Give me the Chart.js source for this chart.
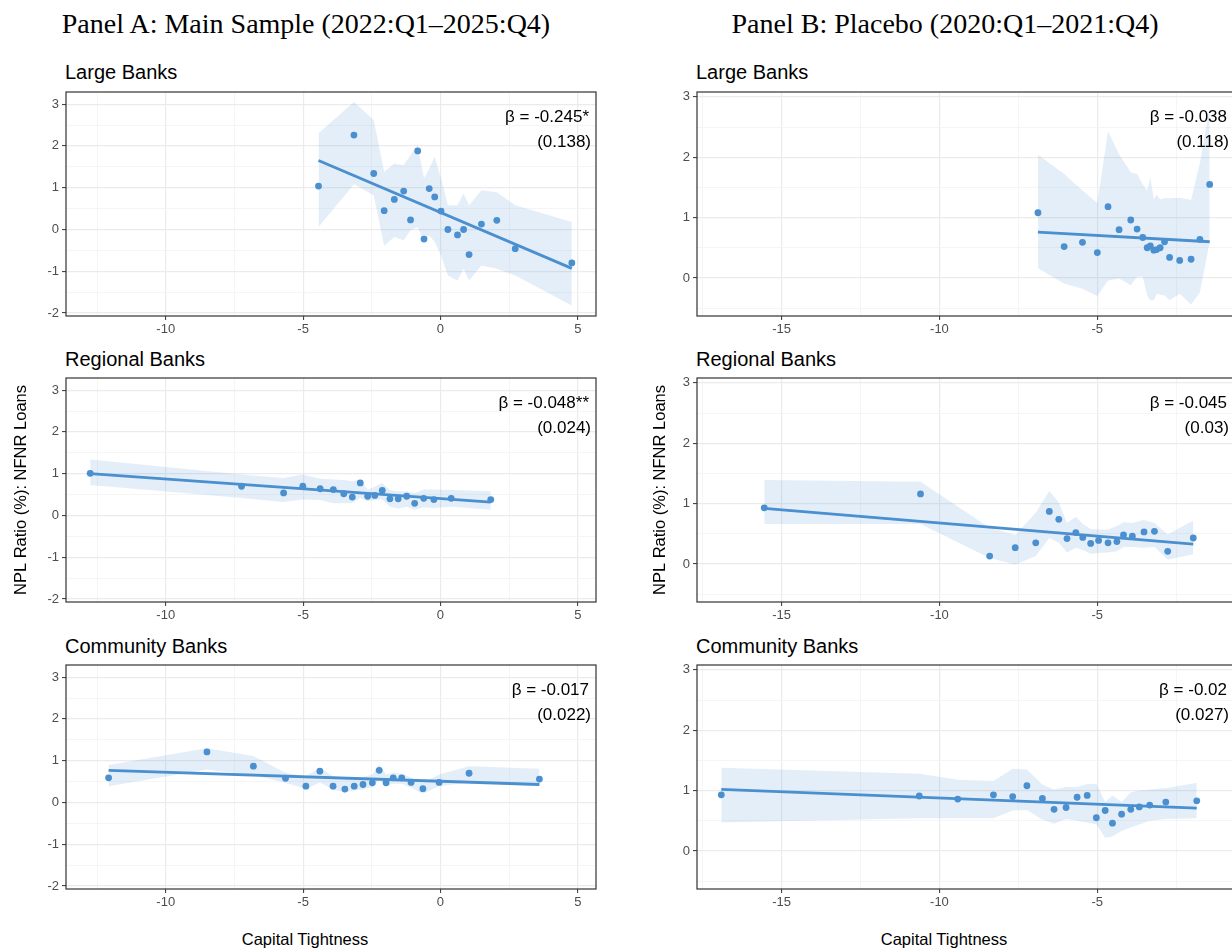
<!DOCTYPE html>
<html>
<head>
<meta charset="utf-8">
<script src="https://cdn.jsdelivr.net/npm/chart.js@4.4.1/dist/chart.umd.min.js"></script>
<style>
  html, body { margin: 0; padding: 0; background: #fff; overflow: hidden; }
  body { width: 1232px; height: 949px; position: relative; }
  canvas { position: absolute; }
  .head { position: absolute; top: 10px; font-family: "Liberation Serif", serif; font-size: 28px; line-height: 28px; white-space: nowrap; transform: translateX(-50%); color: #000; }
  .sub { position: absolute; font-family: "Liberation Sans", Arial, sans-serif; font-size: 20px; line-height: 20px; white-space: nowrap; color: #000; }
  .xt { position: absolute; top: 931px; font-family: "Liberation Sans", Arial, sans-serif; font-size: 16.5px; line-height: 16.5px; white-space: nowrap; transform: translateX(-50%); color: #000; }
</style>
</head>
<body>
<div class="head" style="left:306px">Panel A: Main Sample (2022:Q1–2025:Q4)</div>
<div class="head" style="left:945px">Panel B: Placebo (2020:Q1–2021:Q4)</div>

<div class="sub" style="left:65px;top:62px">Large Banks</div>
<div class="sub" style="left:65px;top:349px">Regional Banks</div>
<div class="sub" style="left:65px;top:636px">Community Banks</div>
<div class="sub" style="left:696px;top:62px">Large Banks</div>
<div class="sub" style="left:696px;top:349px">Regional Banks</div>
<div class="sub" style="left:696px;top:636px">Community Banks</div>

<canvas id="aLarge" width="590" height="252" style="left:10px;top:88px"></canvas>
<canvas id="aRegional" width="590" height="252" style="left:10px;top:374px"></canvas>
<canvas id="aCommunity" width="590" height="252" style="left:10px;top:661px"></canvas>
<canvas id="bLarge" width="589" height="252" style="left:649px;top:88px"></canvas>
<canvas id="bRegional" width="589" height="252" style="left:649px;top:374px"></canvas>
<canvas id="bCommunity" width="589" height="252" style="left:649px;top:661px"></canvas>

<div class="xt" style="left:305px">Capital Tightness</div>
<div class="xt" style="left:944px">Capital Tightness</div>

<script>
// axis ticks (minor ones carry no label)
var xTicksA = [-12.5, -10, -7.5, -5, -2.5, 0, 2.5, 5];
var yTicksA = [-2, -1.5, -1, -0.5, 0, 0.5, 1, 1.5, 2, 2.5, 3];
var xTicksB = [-17.5, -15, -12.5, -10, -7.5, -5, -2.5];
var yTicksB = [-0.5, 0, 0.5, 1, 1.5, 2, 2.5, 3];
var xRangeA = [-13.63, 5.66], yRangeA = [-2.07, 3.29];
var xRangeB = [-17.68, -0.67], yRangeB = [-0.63, 3.08];

// Panel A: Large
var largeA_x = [-4.44, -3.15, -2.43, -2.05, -1.68, -1.34, -1.09, -0.83, -0.60, -0.41, -0.21, 0.02, 0.27, 0.62, 0.84, 1.04, 1.49, 2.05, 2.72, 4.78];
var largeA_y = [1.04, 2.26, 1.34, 0.45, 0.72, 0.92, 0.23, 1.88, -0.23, 0.98, 0.78, 0.44, 0.00, -0.13, 0.00, -0.60, 0.13, 0.22, -0.46, -0.80];
var largeA_hi = [2.30, 3.05, 2.62, 1.38, 1.58, 1.54, 1.78, 2.02, 1.22, 1.46, 1.74, 1.22, 0.58, 0.58, 0.86, 0.58, 0.94, 0.89, 0.58, 0.18];
var largeA_lo = [0.06, 1.08, 0.82, -0.39, -0.18, -0.26, -0.02, 0.06, -0.30, -0.14, -0.30, -0.62, -1.10, -1.22, -0.94, -1.22, -0.86, -0.94, -1.10, -1.82];
var largeA_fitX = [-4.44, 4.78], largeA_fitY = [1.65, -0.93];

// Panel A: Regional
var regA_x = [-12.75, -7.24, -5.71, -5.01, -4.38, -3.90, -3.52, -3.21, -2.92, -2.65, -2.39, -2.12, -1.84, -1.54, -1.23, -0.94, -0.61, -0.24, 0.39, 1.83];
var regA_y = [1.01, 0.70, 0.54, 0.70, 0.64, 0.62, 0.52, 0.44, 0.78, 0.46, 0.48, 0.60, 0.40, 0.40, 0.46, 0.29, 0.41, 0.38, 0.41, 0.38];
var regA_hi = [1.34, 0.98, 0.90, 0.98, 0.88, 0.86, 0.85, 0.82, 0.86, 0.62, 0.69, 0.78, 0.61, 0.58, 0.58, 0.54, 0.62, 0.62, 0.61, 0.58];
var regA_lo = [0.73, 0.42, 0.32, 0.38, 0.37, 0.29, 0.29, 0.30, 0.42, 0.34, 0.37, 0.38, 0.21, 0.17, 0.21, 0.14, 0.20, 0.18, 0.21, 0.14];
var regA_fitX = [-12.75, 1.83], regA_fitY = [1.00, 0.32];

// Panel A: Community
var comA_x = [-12.08, -8.50, -6.81, -5.64, -4.90, -4.39, -3.91, -3.48, -3.14, -2.82, -2.48, -2.23, -1.98, -1.72, -1.41, -1.07, -0.64, -0.05, 1.04, 3.60];
var comA_y = [0.59, 1.21, 0.87, 0.58, 0.39, 0.75, 0.39, 0.32, 0.39, 0.43, 0.47, 0.77, 0.47, 0.59, 0.59, 0.48, 0.33, 0.48, 0.70, 0.56];
var comA_hi = [0.90, 1.30, 1.11, 0.71, 0.63, 0.83, 0.63, 0.59, 0.59, 0.61, 0.67, 0.91, 0.67, 0.71, 0.69, 0.60, 0.47, 0.67, 0.87, 0.81];
var comA_lo = [0.39, 0.79, 0.65, 0.47, 0.32, 0.48, 0.31, 0.24, 0.29, 0.31, 0.37, 0.55, 0.40, 0.45, 0.45, 0.35, 0.21, 0.39, 0.48, 0.39];
var comA_fitX = [-12.08, 3.60], comA_fitY = [0.77, 0.43];

// Panel B: Large
var largeB_x = [-6.88, -6.05, -5.47, -5.00, -4.66, -4.31, -3.94, -3.74, -3.56, -3.42, -3.32, -3.21, -3.12, -3.01, -2.87, -2.71, -2.39, -2.03, -1.75, -1.44];
var largeB_y = [1.08, 0.52, 0.59, 0.42, 1.18, 0.80, 0.96, 0.81, 0.67, 0.50, 0.53, 0.46, 0.47, 0.50, 0.60, 0.34, 0.29, 0.31, 0.64, 1.55];
var largeB_hi = [2.04, 1.72, 1.45, 1.24, 2.43, 2.05, 1.75, 1.72, 1.55, 1.45, 1.66, 1.30, 1.38, 1.30, 1.32, 1.32, 1.33, 1.29, 1.90, 2.84];
var largeB_lo = [0.16, -0.09, -0.18, -0.30, -0.04, -0.01, -0.12, 0.02, 0.02, -0.29, -0.37, -0.37, -0.26, -0.28, -0.29, -0.37, -0.26, -0.44, -0.24, 0.60];
var largeB_fitX = [-6.88, -1.44], largeB_fitY = [0.76, 0.60];

// Panel B: Regional
var regB_x = [-15.55, -10.60, -8.41, -7.60, -6.95, -6.52, -6.22, -5.96, -5.68, -5.46, -5.21, -4.96, -4.66, -4.38, -4.17, -3.89, -3.52, -3.19, -2.77, -1.96];
var regB_y = [0.93, 1.16, 0.13, 0.27, 0.35, 0.87, 0.74, 0.42, 0.52, 0.44, 0.34, 0.39, 0.35, 0.37, 0.48, 0.46, 0.53, 0.54, 0.21, 0.43];
var regB_hi = [1.39, 1.36, 0.60, 0.48, 0.85, 1.21, 1.02, 0.68, 0.78, 0.66, 0.58, 0.57, 0.57, 0.63, 0.69, 0.68, 0.73, 0.68, 0.49, 0.72];
var regB_lo = [0.66, 0.66, 0.10, -0.01, 0.13, 0.43, 0.35, 0.19, 0.27, 0.23, 0.17, 0.18, 0.19, 0.21, 0.28, 0.28, 0.27, 0.28, 0.07, 0.16];
var regB_fitX = [-15.55, -1.96], regB_fitY = [0.92, 0.33];

// Panel B: Community
var comB_x = [-16.91, -10.64, -9.42, -8.29, -7.68, -7.23, -6.74, -6.37, -5.99, -5.64, -5.32, -5.03, -4.75, -4.52, -4.23, -3.94, -3.67, -3.34, -2.83, -1.85];
var comB_y = [0.93, 0.91, 0.86, 0.93, 0.90, 1.08, 0.87, 0.69, 0.72, 0.89, 0.92, 0.55, 0.67, 0.46, 0.61, 0.69, 0.73, 0.76, 0.81, 0.83];
var comB_hi = [1.38, 1.28, 1.18, 1.16, 1.36, 1.35, 1.10, 1.02, 1.06, 1.06, 1.11, 1.11, 0.81, 0.92, 0.81, 0.97, 1.00, 1.02, 1.04, 1.13];
var comB_lo = [0.47, 0.54, 0.54, 0.54, 0.67, 0.68, 0.52, 0.45, 0.53, 0.50, 0.47, 0.44, 0.22, 0.24, 0.33, 0.39, 0.44, 0.50, 0.53, 0.54];
var comB_fitX = [-16.91, -1.85], comB_fitY = [1.02, 0.71];

var betaA = ["β = -0.245*", "β = -0.048**", "β = -0.017"];
var seA = ["(0.138)", "(0.024)", "(0.022)"];
var betaB = ["β = -0.038", "β = -0.045", "β = -0.02"];
var seB = ["(0.118)", "(0.03)", "(0.027)"];

var BLUE = "#4a8fcf";
var BAND = "rgba(74,143,207,0.15)";

Chart.defaults.font.family = '"Liberation Sans", Arial, sans-serif';

function isMult(v, m) {
  return Math.abs(v / m - Math.round(v / m)) < 1e-6;
}

function pts(xs, ys) {
  return xs.map(function (x, i) { return { x: x, y: ys[i] }; });
}

// panel border + coefficient text
var panelDecor = {
  id: "panelDecor",
  afterDatasetsDraw: function (chart, args, opts) {
    var ctx = chart.ctx, a = chart.chartArea;
    ctx.save();
    ctx.strokeStyle = "#333333";
    ctx.lineWidth = 1.2;
    ctx.strokeRect(a.left, a.top, a.right - a.left, a.bottom - a.top);
    ctx.fillStyle = "#000";
    ctx.font = '17px "Liberation Sans", Arial, sans-serif';
    ctx.textAlign = "right";
    ctx.textBaseline = "middle";
    ctx.fillText(opts.beta, a.right - 7, a.top + 25);
    ctx.fillText(opts.se, a.right - 5, a.top + 50);
    ctx.restore();
  }
};

function axis(ticks, range, major, isX, yw, showTitle) {
  var s = {
    type: "linear",
    min: range[0],
    max: range[1],
    border: { display: false },
    afterBuildTicks: function (sc) {
      sc.ticks = ticks.map(function (v) { return { value: v }; });
    },
    grid: {
      color: function (c) { return isMult(c.tick.value, major) ? "#ebebeb" : "#f3f3f3"; },
      lineWidth: function (c) { return isMult(c.tick.value, major) ? 1.2 : 0.8; },
      tickColor: function (c) { return isMult(c.tick.value, major) ? "#333333" : "rgba(0,0,0,0)"; },
      tickLength: 4,
      tickWidth: 1
    },
    ticks: {
      autoSkip: false,
      maxRotation: 0,
      padding: isX ? 2 : 3,
      color: "#4d4d4d",
      font: { size: 13 },
      callback: function (v) { return isMult(v, major) ? String(v) : ""; }
    }
  };
  if (isX) {
    s.afterFit = function (sc) {
      sc.height = 24;
      sc.paddingLeft = 0;
      sc.paddingRight = 0;
    };
  } else {
    s.afterFit = function (sc) {
      sc.width = yw;
      sc.paddingTop = 0;
      sc.paddingBottom = 0;
    };
    s.title = {
      display: showTitle,
      text: "NPL Ratio (%): NFNR Loans",
      color: "#000",
      font: { size: 16.5 },
      padding: { top: 2, bottom: 0 }
    };
  }
  return s;
}

function drawPanel(id, xs, ys, hi, lo, fitX, fitY, col, beta, se, showTitle) {
  var isA = col === "A";
  new Chart(document.getElementById(id), {
    type: "scatter",
    data: {
      datasets: [
        { type: "line", data: pts(xs, lo), borderWidth: 0, borderColor: "rgba(0,0,0,0)", pointRadius: 0, fill: false, order: 3 },
        { type: "line", data: pts(xs, hi), borderWidth: 0, borderColor: "rgba(0,0,0,0)", pointRadius: 0, fill: "-1", backgroundColor: BAND, order: 2 },
        { type: "line", data: pts(fitX, fitY), borderColor: BLUE, borderWidth: 2.8, pointRadius: 0, fill: false, order: 1 },
        { data: pts(xs, ys), backgroundColor: BLUE, borderWidth: 0, pointRadius: 3.4, order: 0 }
      ]
    },
    options: {
      responsive: false,
      animation: false,
      events: [],
      layout: { padding: { top: 4, right: 4, left: 0, bottom: 0 } },
      scales: {
        x: axis(isA ? xTicksA : xTicksB, isA ? xRangeA : xRangeB, 5, true),
        y: axis(isA ? yTicksA : yTicksB, isA ? yRangeA : yRangeB, 1, false, isA ? 56 : 48, showTitle)
      },
      plugins: {
        legend: { display: false },
        tooltip: { enabled: false },
        panelDecor: { beta: beta, se: se }
      }
    },
    plugins: [panelDecor]
  });
}

drawPanel("aLarge", largeA_x, largeA_y, largeA_hi, largeA_lo, largeA_fitX, largeA_fitY, "A", betaA[0], seA[0], false);
drawPanel("aRegional", regA_x, regA_y, regA_hi, regA_lo, regA_fitX, regA_fitY, "A", betaA[1], seA[1], true);
drawPanel("aCommunity", comA_x, comA_y, comA_hi, comA_lo, comA_fitX, comA_fitY, "A", betaA[2], seA[2], false);
drawPanel("bLarge", largeB_x, largeB_y, largeB_hi, largeB_lo, largeB_fitX, largeB_fitY, "B", betaB[0], seB[0], false);
drawPanel("bRegional", regB_x, regB_y, regB_hi, regB_lo, regB_fitX, regB_fitY, "B", betaB[1], seB[1], true);
drawPanel("bCommunity", comB_x, comB_y, comB_hi, comB_lo, comB_fitX, comB_fitY, "B", betaB[2], seB[2], false);
</script>
</body>
</html>
